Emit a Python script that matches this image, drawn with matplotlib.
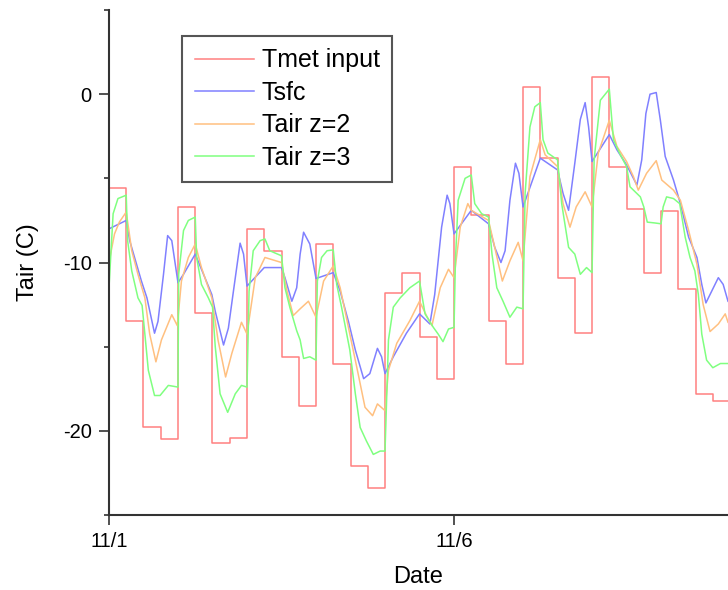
import matplotlib.pyplot as plt


# Tmet input: 6-hourly forcing (days since 11/1)
TMET_T = [i * 0.25 for i in range(37)]
TMET = [
    -5.6, -13.5, -19.8, -20.5, -6.7, -13.0, -20.7, -20.4,
    -8.0, -9.3, -15.6, -18.5, -8.9, -16.0, -22.1, -23.4,
    -11.8, -10.6, -14.4, -16.9, -4.3, -7.2, -13.5, -16.0,
    0.4, -3.8, -10.9, -14.2, 1.0, -4.3, -6.85, -10.6,
    -6.95, -11.6, -17.8, -18.2, -18.2,
]

TSFC_T = [
    0.0, 0.25, 0.30, 0.47, 0.55, 0.66, 0.71, 0.79, 0.85, 0.91,
    1.0, 1.08, 1.25, 1.34, 1.49, 1.54, 1.66, 1.73, 1.80, 1.90, 1.95,
    2.0, 2.25, 2.5, 2.55, 2.65, 2.72, 2.77, 2.82, 2.91,
    3.0, 3.25, 3.35, 3.47, 3.57, 3.69, 3.78, 3.89, 3.95,
    4.0, 4.12, 4.31, 4.5, 4.65, 4.72, 4.82, 4.90, 4.94,
    5.0, 5.25, 5.5, 5.59, 5.68, 5.74, 5.81, 5.89, 5.94,
    6.0, 6.25, 6.5, 6.58, 6.66, 6.75, 6.83, 6.90, 6.95,
    7.0, 7.25, 7.36, 7.5, 7.65, 7.72, 7.78, 7.84, 7.93, 7.99,
    8.06, 8.18, 8.28, 8.40, 8.52, 8.59, 8.65, 8.71, 8.83, 8.90, 8.97,
]
TSFC = [
    -8.0, -7.5, -8.7, -11.1, -12.1, -14.2, -13.5, -10.7, -8.4, -8.7,
    -11.2, -10.7, -9.5, -10.4, -11.9, -12.9, -14.9, -13.9, -11.8, -8.85, -9.5,
    -11.4, -10.3, -10.3, -10.9, -12.3, -11.5, -9.5, -8.2, -8.9,
    -10.95, -10.6, -11.7, -13.5, -15.2, -16.9, -16.6, -15.1, -15.6,
    -16.6, -15.6, -14.2, -13.05, -13.65, -11.9, -7.9, -6.0, -6.5,
    -8.3, -6.9, -7.7, -9.1, -10.0, -9.3, -6.3, -4.1, -4.7,
    -6.7, -3.8, -4.5, -5.9, -6.9, -4.1, -1.5, -0.5, -1.95,
    -4.0, -2.4, -3.3, -4.2, -5.4, -3.9, -1.15, 0.0, 0.1, -1.55,
    -3.7, -5.1, -6.5, -8.5, -9.7, -11.3, -12.4, -11.9, -10.9, -11.3, -12.3,
]

TAIR2_T = [
    0.0, 0.08, 0.15, 0.25, 0.33, 0.42, 0.52, 0.59, 0.68, 0.76, 0.91, 0.99,
    1.05, 1.15, 1.25, 1.34, 1.49, 1.58, 1.69, 1.78, 1.92,
    2.0, 2.12, 2.26, 2.5, 2.58, 2.67, 2.77, 2.89,
    3.0, 3.11, 3.25, 3.35, 3.49, 3.61, 3.71, 3.82, 3.89,
    4.0, 4.05, 4.17, 4.36, 4.5, 4.60, 4.68, 4.80, 4.92,
    5.0, 5.09, 5.20, 5.25, 5.5, 5.59, 5.70, 5.81, 5.93,
    6.0, 6.10, 6.25, 6.32, 6.5, 6.58, 6.68, 6.77, 6.90,
    7.0, 7.09, 7.25, 7.36, 7.5, 7.60, 7.67, 7.79, 7.93,
    8.01, 8.18, 8.28, 8.40, 8.52, 8.61, 8.71, 8.83, 8.93, 8.97,
]
TAIR2 = [
    -10.0, -8.3, -7.6, -7.0, -9.3, -10.7, -12.1, -14.25, -15.9, -14.6, -13.1, -13.75,
    -11.1, -9.7, -8.9, -10.3, -12.1, -14.6, -16.8, -15.4, -13.55,
    -14.25, -10.9, -9.7, -10.0, -11.7, -13.15, -12.75, -12.3,
    -13.25, -11.1, -10.2, -11.5, -14.25, -16.6, -18.6, -19.1, -18.4,
    -18.8, -16.4, -14.8, -13.45, -12.3, -13.15, -13.75, -11.5, -10.4,
    -10.9, -7.9, -6.5, -6.9, -7.5, -9.1, -11.1, -9.9, -8.8,
    -9.9, -4.9, -2.7, -3.6, -4.3, -6.5, -7.9, -6.7, -5.8,
    -6.7, -3.5, -1.55, -3.1, -4.0, -4.9, -5.7, -4.7, -3.95,
    -5.1, -5.7, -6.3, -8.1, -10.1, -12.5, -14.1, -13.65, -13.05, -13.55,
]

TAIR3_T = [
    0.0, 0.06, 0.13, 0.25, 0.27, 0.33, 0.42, 0.48, 0.52, 0.57, 0.66, 0.74, 0.86,
    1.0, 1.01, 1.08, 1.15, 1.25, 1.27, 1.34, 1.44, 1.50, 1.54, 1.61, 1.72, 1.83, 1.92,
    2.0, 2.03, 2.09, 2.19, 2.26, 2.33, 2.5, 2.55, 2.62, 2.72, 2.77, 2.82, 2.91,
    3.0, 3.02, 3.08, 3.16, 3.25, 3.30, 3.37, 3.49, 3.57, 3.64, 3.73, 3.83, 3.93,
    4.0, 4.05, 4.12, 4.22, 4.36, 4.5, 4.58, 4.70, 4.77, 4.84, 4.92,
    5.0, 5.02, 5.06, 5.16, 5.25, 5.30, 5.40, 5.5, 5.55, 5.62, 5.71, 5.81, 5.91,
    6.0, 6.03, 6.10, 6.17, 6.25, 6.29, 6.36, 6.5, 6.56, 6.66, 6.75, 6.83, 6.92,
    7.0, 7.03, 7.12, 7.25, 7.31, 7.41, 7.5, 7.55, 7.70, 7.75, 7.80, 7.91,
    8.0, 8.03, 8.08, 8.18, 8.27, 8.35, 8.42, 8.49, 8.54, 8.59, 8.66, 8.75, 8.86, 8.97,
]
TAIR3 = [
    -11.5, -7.1, -6.2, -6.0, -8.7, -10.5, -12.1, -12.55, -14.25, -16.4, -17.9, -17.9, -17.3,
    -17.4, -10.7, -8.1, -7.5, -7.3, -9.7, -11.3, -12.1, -12.65, -15.0, -17.8, -18.9, -17.8, -17.3,
    -17.4, -11.7, -9.3, -8.7, -8.6, -9.3, -9.6, -11.5, -12.65, -14.05, -14.6, -15.7, -15.6,
    -15.8, -11.1, -9.7, -9.3, -9.25, -11.3, -12.65, -15.2, -17.8, -19.8, -20.6, -21.4, -21.2,
    -21.2, -14.6, -12.65, -12.1, -11.5, -11.1, -13.05, -13.85, -14.25, -14.7, -13.95,
    -13.85, -9.9, -6.3, -5.0, -4.8, -6.5, -7.1, -7.3, -9.5, -11.5, -12.3, -13.25, -12.65,
    -12.75, -5.9, -1.95, -0.75, -0.5, -2.7, -3.5, -3.9, -6.5, -9.1, -9.5, -10.7, -10.3,
    -10.6, -3.9, -0.36, 0.3, -2.7, -3.6, -4.3, -5.5, -6.1, -6.7, -7.6, -7.65,
    -7.7, -6.7, -6.1, -6.2, -6.5, -8.5, -9.7, -10.5, -11.9, -14.25, -15.8, -16.25, -16.0, -16.0,
]

X_TICKS = [0, 5]
X_TICK_LABELS = ["11/1", "11/6"]


def main() -> None:
    plt.rcParams["font.family"] = ["Liberation Sans", "DejaVu Sans"]
    plt.rcParams["axes.unicode_minus"] = False

    fig = plt.figure(figsize=(7.28, 5.90), dpi=100)
    ax = fig.add_axes([0.1497, 0.1271, 0.8503, 0.8559])

    lw = 1.1
    ax.step(TMET_T, TMET, where="post", color="#ff8080", lw=lw, label="Tmet input")
    ax.plot(TSFC_T, TSFC, color="#8080ff", lw=lw, label="Tsfc")
    ax.plot(TAIR2_T, TAIR2, color="#ffc080", lw=lw, label="Tair z=2")
    ax.plot(TAIR3_T, TAIR3, color="#80ff80", lw=lw, label="Tair z=3")

    ax.set_xlim(0, 8.97)
    ax.set_ylim(-25, 5)

    ax.set_xticks(X_TICKS)
    ax.set_xticklabels(X_TICK_LABELS)
    ax.set_yticks([-20, -10, 0])
    ax.set_yticks([-25, -15, -5, 5], minor=True)

    for side in ("top", "right"):
        ax.spines[side].set_visible(False)
    for side in ("left", "bottom"):
        ax.spines[side].set_linewidth(1.5)
        ax.spines[side].set_color("#333333")

    ax.tick_params(which="major", length=7, width=1.2, pad=5.5,
                   labelsize=14.5, color="#333333")
    ax.tick_params(which="minor", length=3.6, width=1.2, color="#333333")

    ax.set_xlabel("Date", fontsize=17)
    ax.set_ylabel("Tair (C)", fontsize=17)
    ax.xaxis.set_label_coords(0.5, -0.123)
    ax.xaxis.label.set_va("center")
    ax.yaxis.set_label_coords(-0.131, 0.5)
    ax.yaxis.label.set_va("center")

    leg = ax.legend(
        loc="upper left",
        bbox_to_anchor=(0.118, 0.949),
        borderaxespad=0,
        fontsize=18,
        handlelength=2.36,
        handletextpad=0.32,
        labelspacing=0.34,
        borderpad=0.5,
        fancybox=False,
        framealpha=1,
        edgecolor="#555555",
    )
    leg.get_frame().set_linewidth(1.5)

    fig.savefig("out.png", dpi=100)


if __name__ == "__main__":
    main()
